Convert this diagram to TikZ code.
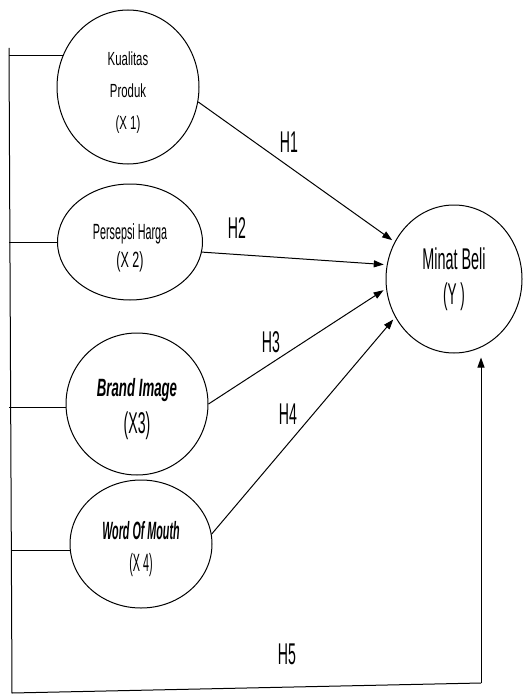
\documentclass[tikz,border=0pt]{standalone}
\usepackage{fontspec}
\setmainfont{Liberation Sans}
\usetikzlibrary{shapes.geometric,arrows.meta}
\newcommand{\sqz}[2]{\scalebox{#1}[1]{#2}}
\begin{document}
\begin{tikzpicture}[x=1pt,y=-1pt,
  var/.style={draw,ellipse,line width=1pt,inner sep=0pt,align=center},
  conn/.style={line width=1pt},
  arr/.style={line width=1pt,shorten >=3pt,-{Triangle[length=10pt,width=7pt]}},
  hlab/.style={font=\fontsize{30}{30}\selectfont,inner sep=0pt}]
\useasboundingbox (0,0) rectangle (524,695);

% variables
\node[var,minimum width=142pt,minimum height=154pt,font=\fontsize{19}{32}\selectfont] (e1) at (128,87)
  {\rule{0pt}{24pt}\sqz{0.6}{Kualitas}\\\sqz{0.6}{Produk}\\\sqz{0.6}{(X 1)}};
\node[var,minimum width=145pt,minimum height=116pt,font=\fontsize{22}{28}\selectfont] (e2) at (130,242)
  {\rule{0pt}{28pt}\sqz{0.49}{Persepsi Harga}\\\sqz{0.57}{(X 2)}};
\node[var,minimum width=142pt,minimum height=142pt,font=\fontsize{25}{37}\selectfont] (e3) at (137,404)
  {\rule{0pt}{28pt}\sqz{0.53}{\bfseries\itshape Brand Image}\\{\fontsize{30}{37}\selectfont\sqz{0.47}{(X3)}}};
\node[var,minimum width=142pt,minimum height=128pt,font=\fontsize{25}{32}\selectfont] (e4) at (141,544)
  {\rule{0pt}{28pt}\sqz{0.43}{\bfseries\itshape Word Of Mouth}\\\sqz{0.43}{(X 4)}};
\node[var,minimum width=136pt,minimum height=148pt,font=\fontsize{30}{35}\selectfont] (Y) at (454,279)
  {\sqz{0.48}{Minat Beli}\\\sqz{0.45}{(Y )}};

% hypothesis arrows
\draw[arr] (e1.-12) -- (Y.148);
\draw[arr] (e2.-8.6) -- (Y.168);
\draw[arr] (e3.0) -- (Y.-172);
\draw[arr] (e4.8.7) -- (Y.213);

% labels
\node[hlab] (h1) at (289,142) {\sqz{0.47}{H1}};
\node[hlab] (h2) at (237,228) {\sqz{0.47}{H2}};
\node[hlab] (h3) at (271,342) {\sqz{0.47}{H3}};
\node[hlab] (h4) at (288,414) {\sqz{0.47}{H4}};
\node[hlab] (h5) at (287,654) {\sqz{0.47}{H5}};

% simultaneous path
\coordinate (lt) at (9,48);
\coordinate (lb) at (12,693);
\coordinate (rb) at (481,683);
\draw[conn] (lt) -- (lb) -- (rb);
\draw[conn] (e1.154) -- (e1.154 -| lt);
\draw[conn] (e2.180) -- (e2.180 -| lt);
\draw[conn] (e3.183) -- (e3.183 -| lt);
\draw[conn] (e4.185) -- (e4.185 -| lb);
\draw[arr,shorten >=4pt] (rb) -- (rb |- Y.south);
\end{tikzpicture}
\end{document}
